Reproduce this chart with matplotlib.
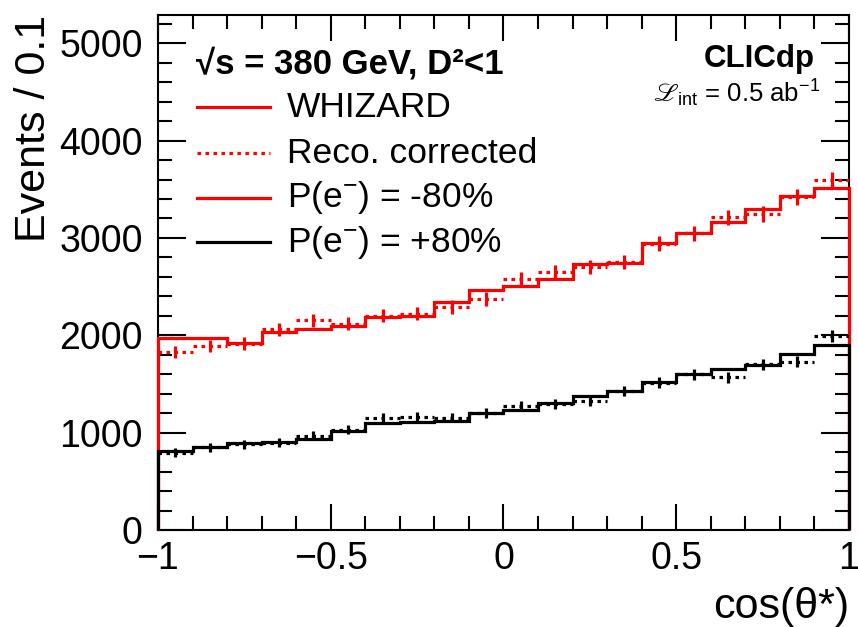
import numpy as np
import matplotlib
matplotlib.use("Agg")
import matplotlib.pyplot as plt
from matplotlib.ticker import MultipleLocator

plt.rcParams["font.family"] = ["Liberation Sans", "DejaVu Sans"]
plt.rcParams["mathtext.fontset"] = "custom"
plt.rcParams["mathtext.rm"] = "Liberation Sans"
plt.rcParams["mathtext.it"] = "Liberation Sans:italic"
plt.rcParams["mathtext.bf"] = "Liberation Sans:bold"
plt.rcParams["mathtext.fallback"] = "stix"

# cos(theta*) binning, 20 bins of 0.1
edges = np.linspace(-1, 1, 21)

# P(e-) = -80%
whizard_m80 = [1970, 1970, 1918, 2035, 2060, 2092, 2185, 2200, 2340, 2466,
               2510, 2580, 2733, 2740, 2945, 3050, 3160, 3298, 3428, 3518]
reco_m80 = [1830, 1890, 1915, 2060, 2155, 2120, 2200, 2220, 2290, 2375,
            2580, 2647, 2700, 2750, 2940, 3050, 3212, 3245, 3418, 3595]
reco_m80_err = [62, 63, 63, 65, 66, 66, 67, 67, 68, 70,
                72, 72, 73, 74, 76, 77, 79, 80, 82, 84]

# P(e-) = +80%
whizard_p80 = [815, 850, 890, 905, 935, 1020, 1100, 1110, 1120, 1200,
               1235, 1305, 1380, 1425, 1525, 1600, 1655, 1690, 1810, 1898]
reco_p80 = [795, 850, 880, 897, 970, 1030, 1152, 1165, 1155, 1205,
            1274, 1290, 1325, 1428, 1514, 1600, 1570, 1700, 1730, 1990]
reco_p80_err = [45, 46, 47, 47, 48, 49, 50, 50, 50, 51,
                52, 52, 53, 54, 55, 56, 56, 57, 58, 60]

lw = 2.3
dots = (0, (1.1, 1.4))

fig = plt.figure(figsize=(8.58, 6.27), dpi=100)
ax = fig.add_axes([0.1841, 0.1547, 0.8054, 0.8214])

centers = 0.5 * (edges[:-1] + edges[1:])

for solid, reco, err, col in [(whizard_m80, reco_m80, reco_m80_err, "#ff0000"),
                              (whizard_p80, reco_p80, reco_p80_err, "black")]:
    ax.stairs(solid, edges, baseline=0, color=col, lw=lw, zorder=3, clip_on=False)
    ax.hlines(reco, edges[:-1], edges[1:], colors=col, lw=lw, linestyles=dots, zorder=3)
    lo = np.array(reco) - np.array(err)
    hi = np.array(reco) + np.array(err)
    ax.vlines(centers, lo, hi, colors=col, lw=lw, zorder=3)

ax.set_xlim(-1, 1)
ax.set_ylim(0, 5290)

ax.xaxis.set_major_locator(MultipleLocator(0.5))
ax.xaxis.set_minor_locator(MultipleLocator(0.1))
ax.yaxis.set_major_locator(MultipleLocator(1000))
ax.yaxis.set_minor_locator(MultipleLocator(200))
ax.set_xticks([-1, -0.5, 0, 0.5, 1], ["\u22121", "\u22120.5", "0", "0.5", "1"])
ax.tick_params(which="both", direction="in", top=True, right=True, width=1.5,
               labelsize=27, colors="black")
ax.tick_params(axis="y", which="major", length=20, pad=11)
ax.tick_params(axis="y", which="minor", length=10)
ax.tick_params(axis="x", which="major", length=19, pad=8)
ax.tick_params(axis="x", which="minor", length=10)
for sp in ax.spines.values():
    sp.set_linewidth(1.5)

ax.set_ylabel("Events / 0.1", fontsize=31, loc="top")
ax.yaxis.set_label_coords(-0.150, 1.0)
ax.set_xlabel("cos(\u03b8*)", fontsize=31, loc="right")
ax.xaxis.set_label_coords(1.0, -0.110)

# legend block
ax.text(0.055, 0.887, "\u221as = 380 GeV, D\u00b2<1",
        transform=ax.transAxes, fontsize=25, fontweight="bold", va="baseline")
entries = [("WHIZARD", "#ff0000", "-", 0.821),
           ("Reco. corrected", "#ff0000", dots, 0.732),
           (r"P(e$^{-}$) = -80%", "#ff0000", "-", 0.645),
           (r"P(e$^{-}$) = +80%", "black", "-", 0.559)]
for label, col, ls, yy in entries:
    ax.plot([0.056, 0.162], [yy, yy], color=col, ls=ls, lw=lw,
            transform=ax.transAxes, clip_on=False)
    ax.text(0.187, yy, label, transform=ax.transAxes, fontsize=25.5, va="center")

ax.text(0.951, 0.899, "CLICdp", transform=ax.transAxes, fontsize=22.5,
        fontweight="bold", ha="right", va="baseline")
ax.text(0.958, 0.831, "$\u2112_{\\mathrm{int}}$ = 0.5 ab$^{-1}$", transform=ax.transAxes,
        fontsize=18.5, ha="right", va="baseline")

fig.savefig("out.png", dpi=100)
